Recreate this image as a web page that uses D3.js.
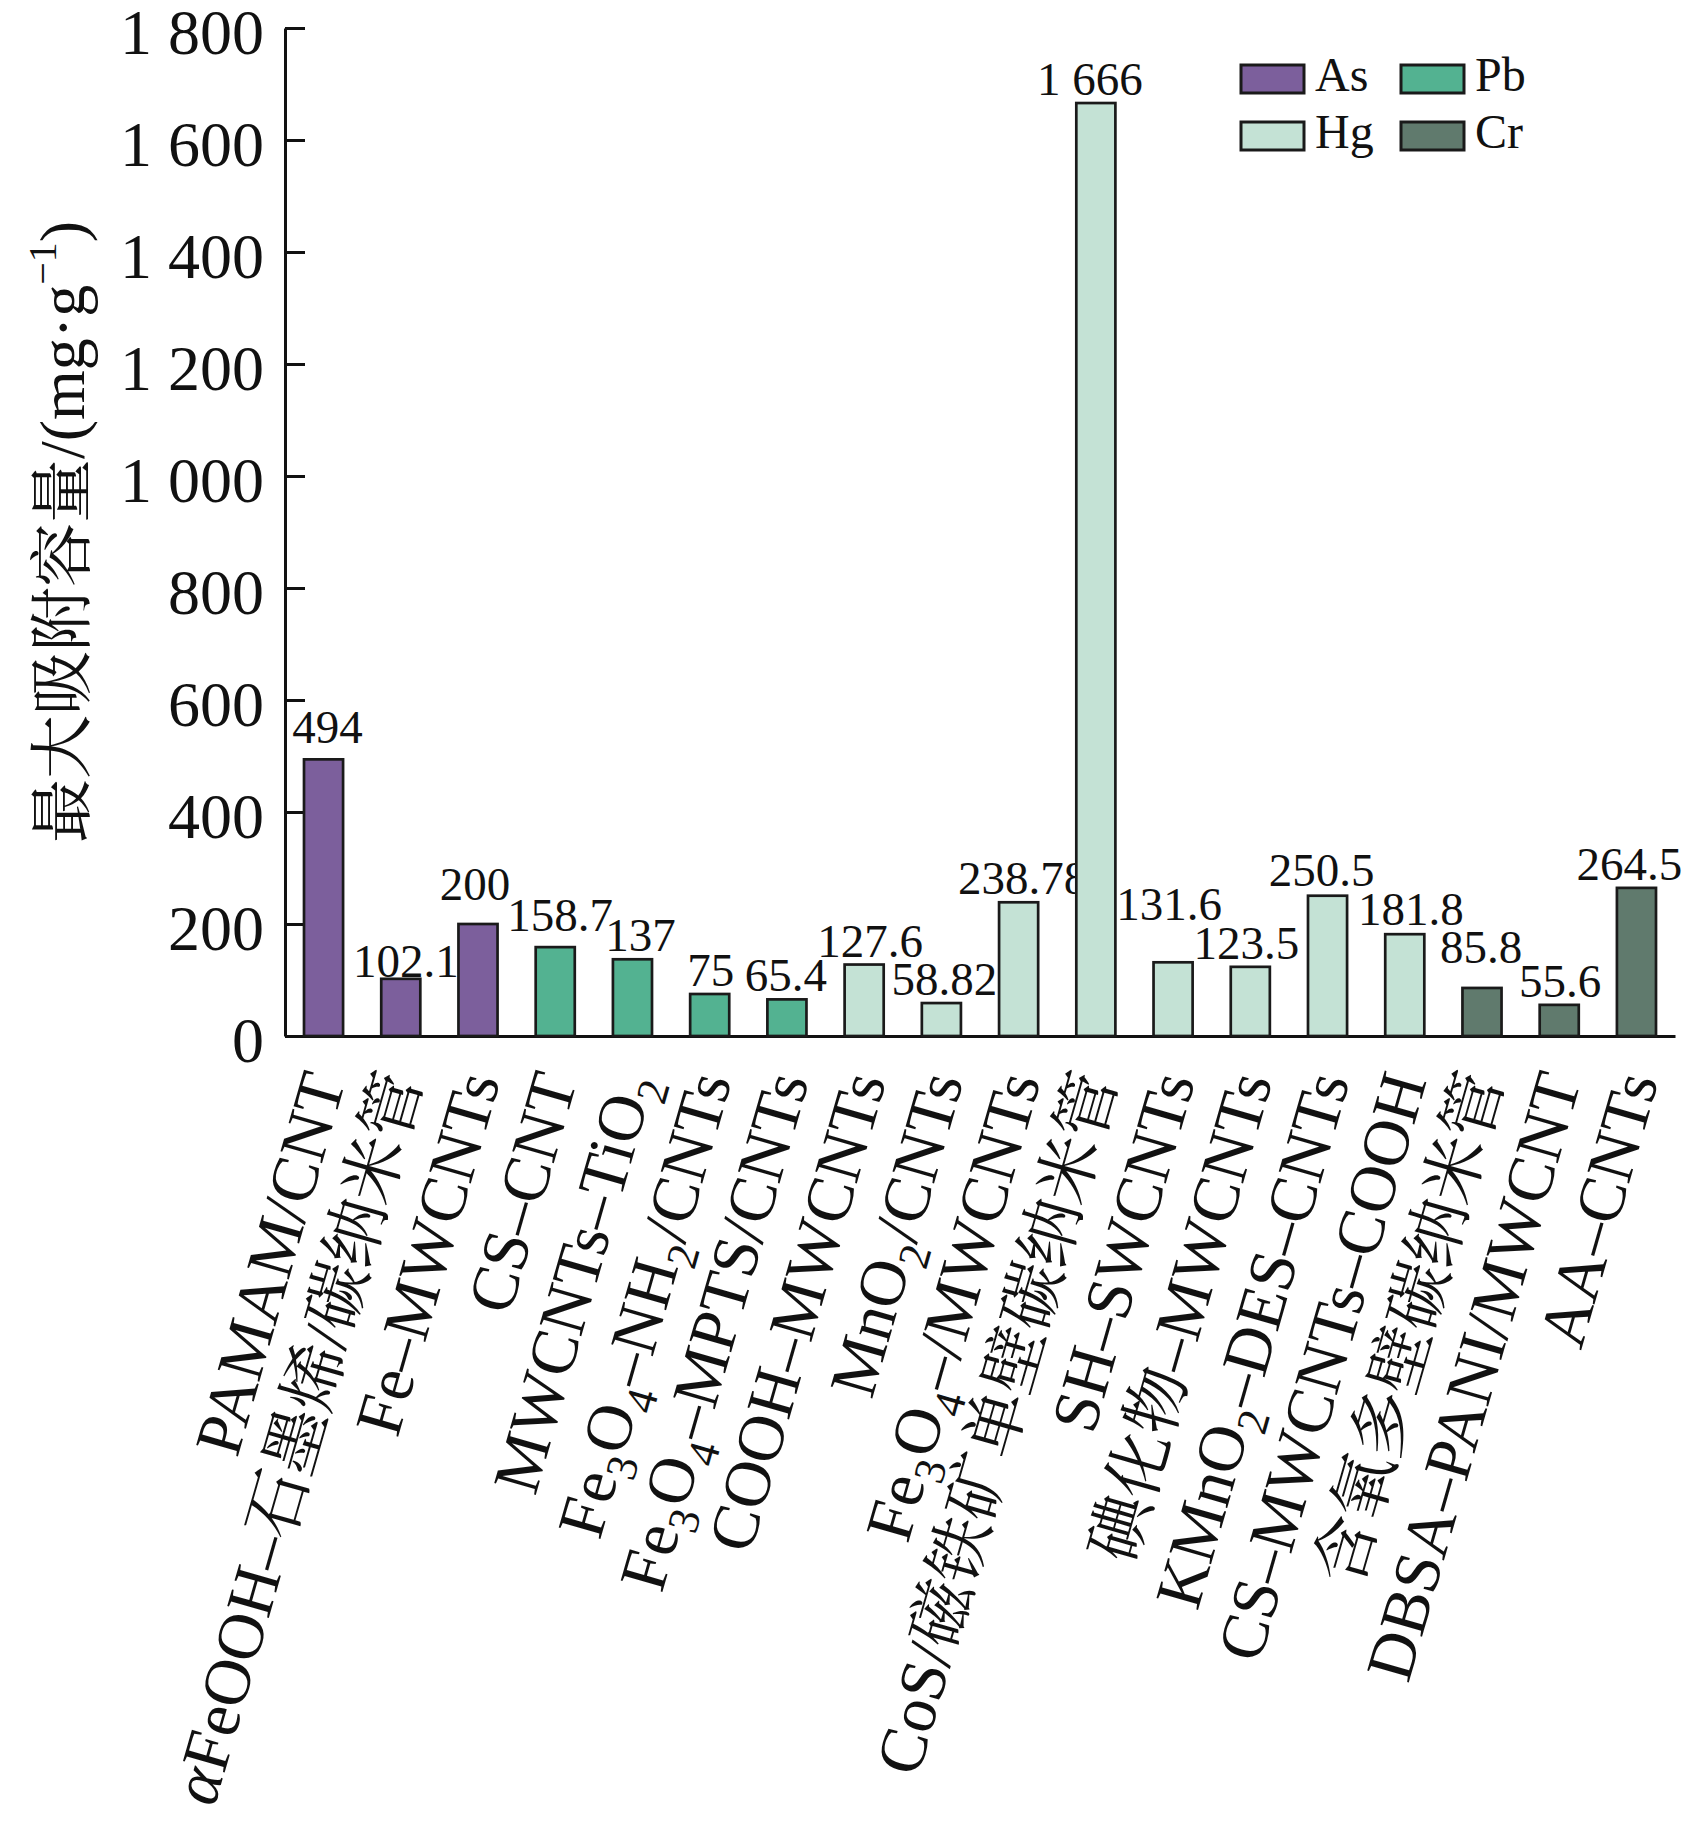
<html>
<head>
<meta charset="utf-8">
<title>最大吸附容量</title>
<style>
  body { margin: 0; padding: 0; background: #fff; }
  svg { display: block; }
  text { font-family: "Liberation Serif", "Noto Serif CJK SC", "Noto Sans CJK SC", serif; fill: #111; }
  .domain { stroke: #111; stroke-width: 3; }
  .tick line { stroke: #111; stroke-width: 3; }
</style>
</head>
<body>
<svg width="1690" height="1829"></svg>
<script src="https://d3js.org/d3.v7.min.js"></script>
<script>

// dati
var categories = [
  "PAMAM/CNT",
  "αFeOOH–石墨烯/碳纳米管",
  "Fe–MWCNTs",
  "CS–CNT",
  "MWCNTs–TiO_2",
  "Fe_3O_4–NH_2/CNTs",
  "Fe_3O_4–MPTS/CNTs",
  "COOH–MWCNTs",
  "MnO_2/CNTs",
  "Fe_3O_4–/MWCNTs",
  "CoS/磁铁矿单壁碳纳米管",
  "SH–SWCNTs",
  "碘化物–MWCNTs",
  "KMnO_2–DES–CNTs",
  "CS–MWCNTs–COOH",
  "含氧多壁碳纳米管",
  "DBSA–PANI/MWCNT",
  "AA–CNTs"
];

var values = [494, 102.1, 200, 158.7, 137, 75, 65.4, 127.6, 58.82, 238.78, 1666, 131.6, 123.5, 250.5, 181.8, 85.8, 55.6, 264.5];

var metals = ["As", "As", "As", "Pb", "Pb", "Pb", "Pb", "Hg", "Hg", "Hg", "Hg", "Hg", "Hg", "Hg", "Hg", "Cr", "Cr", "Cr"];

var legendKeys = ["As", "Pb", "Hg", "Cr"];
var legendColours = ["#7c5f9c", "#53b291", "#c4e2d5", "#607a6d"];

var yTicks = [0, 200, 400, 600, 800, 1000, 1200, 1400, 1600, 1800];

var data = categories.map(function(c, i) {
  return { name: c, value: values[i], metal: metals[i] };
});

var svg = d3.select("svg");
var axisLeft = 285, axisRight = 1675;
var yTop = 28, yZero = 1036;

// piccoli spostamenti delle etichette dei valori per non sovrapporle [dx, dy]
var labelNudge = [[4, -8], [5, 6], [-3, -16], [5, -8], [8, 0], [1, 0], [-1, 0], [6, 0], [3, 0],
  [4, 0], [-6, 0], [-4, -34], [-4, 0], [-6, -2], [6, -1], [-1, -17], [1, 0], [-7, 0]];

var x = d3.scaleBand()
  .domain(categories)
  .range([axisLeft, axisRight])
  .paddingInner(0.494)
  .paddingOuter(0.246);

var y = d3.scaleLinear().domain([0, 1800]).range([yZero, yTop]);

var colour = d3.scaleOrdinal().domain(legendKeys).range(legendColours);

// numeri con spazio per le migliaia (1 800)
var loc = d3.formatLocale({ decimal: ".", thousands: " ", grouping: [3], currency: ["", ""] });
var fmt = loc.format(",");

// asse y con tacche verso l'interno
svg.append("g")
  .attr("transform", "translate(" + axisLeft + ",0)")
  .call(d3.axisLeft(y).tickValues(yTicks).tickFormat(fmt).tickSizeInner(-20).tickSizeOuter(0).tickPadding(21))
  .call(function(g) {
    g.selectAll(".tick text").style("font-size", "64px").attr("fill", "#111").attr("dy", "0.4em");
  });

// asse x, solo la linea
svg.append("g")
  .attr("transform", "translate(0," + yZero + ")")
  .call(d3.axisBottom(x).tickSize(0).tickFormat(""))
  .call(function(g) { g.selectAll(".tick").remove(); });

// etichette dei valori (sotto le barre, 238.78 resta in parte coperta)
svg.append("g")
  .selectAll("text")
  .data(data)
  .enter()
  .append("text")
  .attr("x", function(d, i) { return x(d.name) + x.bandwidth() / 2 + labelNudge[i][0]; })
  .attr("y", function(d, i) { return y(d.value) - 8 + labelNudge[i][1]; })
  .attr("text-anchor", "middle")
  .style("font-size", "47px")
  .text(function(d) { return fmt(d.value); });

// barre
svg.append("g")
  .selectAll("rect")
  .data(data)
  .enter()
  .append("rect")
  .attr("x", function(d) { return x(d.name); })
  .attr("y", function(d) { return y(d.value); })
  .attr("width", x.bandwidth())
  .attr("height", function(d) { return yZero - y(d.value); })
  .attr("fill", function(d) { return colour(d.metal); })
  .attr("stroke", "#1a1a1a")
  .attr("stroke-width", 2.7);

// etichette categorie ruotate, con pedici
function addRich(textSel, str, subSize, shift) {
  var parts = str.match(/_\d|α|[^_α]+/g);
  var down = false;
  parts.forEach(function(p) {
    var t = textSel.append("tspan");
    if (p.charAt(0) == "_") {
      t.text(p.slice(1)).style("font-size", subSize + "px").attr("dy", shift);
      down = true;
    } else {
      if (down) { t.attr("dy", -shift); down = false; }
      if (p == "α") t.style("font-style", "italic");
      t.text(p);
    }
  });
}

svg.append("g")
  .selectAll("text")
  .data(data)
  .enter()
  .append("text")
  .attr("transform", function(d) {
    return "translate(" + (x(d.name) + x.bandwidth() / 2) + "," + (yZero + 38) + ") rotate(-74)";
  })
  .attr("text-anchor", "end")
  .attr("dy", "0.35em")
  .style("font-size", "66px")
  .each(function(d) {
    addRich(d3.select(this), d.name, 44, 16);
  });

// titolo asse y
var title = svg.append("text")
  .attr("transform", "translate(84,532) rotate(-90)")
  .attr("text-anchor", "middle")
  .style("font-size", "64px");
title.append("tspan").text("最大吸附容量/(mg·g");
title.append("tspan").text("−1").style("font-size", "40px").attr("dy", -28);
title.append("tspan").text(")").attr("dy", 28);

// legenda
var legendPos = [[1241, 65], [1401, 65], [1241, 122], [1401, 122]];
var legend = svg.append("g")
  .selectAll("g")
  .data(legendKeys)
  .enter()
  .append("g")
  .attr("transform", function(d, i) { return "translate(" + legendPos[i][0] + "," + legendPos[i][1] + ")"; });

legend.append("rect")
  .attr("width", 63)
  .attr("height", 28)
  .attr("fill", function(d) { return colour(d); })
  .attr("stroke", "#1a1a1a")
  .attr("stroke-width", 3);

legend.append("text")
  .attr("x", 74)
  .attr("y", 26)
  .style("font-size", "48px")
  .text(function(d) { return d; });

</script>
</body>
</html>
